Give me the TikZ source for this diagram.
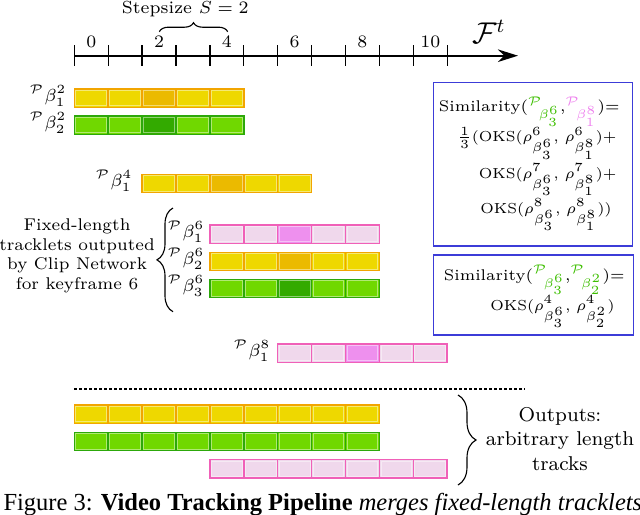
\documentclass[tikz,border=0pt]{standalone}
\usepackage{fontspec}
\newfontfamily\capfont{Liberation Serif}
\usetikzlibrary{decorations.pathreplacing,arrows.meta}
\definecolor{yelF}{HTML}{EED800}
\definecolor{yelD}{HTML}{EBBA00}
\definecolor{yelB}{HTML}{F2A500}
\definecolor{grnF}{HTML}{70D800}
\definecolor{grnD}{HTML}{33AA00}
\definecolor{grnB}{HTML}{2CA80A}
\definecolor{pnkF}{HTML}{F0D8EC}
\definecolor{pnkD}{HTML}{EE90EE}
\definecolor{pnkB}{HTML}{F060B8}
\definecolor{boxB}{HTML}{3C3CD8}
\definecolor{gtxt}{HTML}{3DBE00}
\definecolor{ptxt}{HTML}{EE82EE}
\newcommand{\trackbar}[6]{%
  \foreach \k in {1,...,#2}{%
    \pgfmathsetmacro{\cx}{74.3+(#1+\k-1)*33.9}%
    \pgfmathtruncatemacro{\idx}{#1+\k-1}%
    \ifnum\idx=#6\relax\def\cf{#4D}\else\def\cf{#4F}\fi
    \filldraw[fill=\cf, draw=#4B, line width=0.6pt] (\cx,#3) rectangle ++(33.9,18.3);
    \draw[white, opacity=0.45, line width=0.35pt] (\cx+1.6,#3+1.6) rectangle ++(30.7,15.1);
  }%
  \coordinate (#5) at (74.3+#1*33.9,#3+9.15);
}
\newcommand{\Pb}[2]{{}^{\mathcal{P}}\mkern-4mu{}_{\beta^{#1}_{#2}}}
\begin{document}
\begin{tikzpicture}[x=0.4pt,y=-0.4pt,
  lbl/.style={font=\fontsize{7}{8}\selectfont, inner sep=0pt},
  ticklbl/.style={font=\fontsize{7}{8}\selectfont, inner sep=0pt, anchor=base},
  boxtxt/.style={font=\fontsize{6.2}{8}\selectfont, inner sep=0pt, anchor=base east},
  boxsm/.style={font=\fontsize{5.8}{7}\selectfont, inner sep=0pt, anchor=base east},
  simbox/.style={draw=boxB, line width=0.6pt},
  bracestyle/.style={decorate, line width=0.45pt}]
\useasboundingbox (0,0) rectangle (640,514);
% axis
\coordinate (ax0) at (74.3,55.7);
\coordinate (ax1) at (518,55.7);
\draw[line width=0.9pt, -{Stealth[length=8pt,width=5pt,inset=2.5pt]}] (ax0) -- (ax1);
\foreach \k in {0,...,11}{
  \draw[line width=0.5pt] (74.3+\k*33.9,45) -- (74.3+\k*33.9,65.7);
}
\foreach \k in {0,2,4,6,8,10}{
  \node[ticklbl] (t\k) at (74.3+\k*33.9+16.95,47.7) {\k};
}
\node[lbl, anchor=base west, font=\fontsize{12}{14}\selectfont] (Ft) at (471.7,43.3) {$\mathcal{F}^{t}$};
\node[lbl, anchor=base] (step) at (185.3,13.5) {Stepsize $S=2$};
\coordinate (sb0) at (159.3,31.7);
\coordinate (sb1) at (227.7,31.7);
\draw[bracestyle, decoration={brace, amplitude=3.6pt}] (sb0) -- (sb1);
% tracklets
\trackbar{0}{5}{89}{yel}{b21}{2}
\trackbar{0}{5}{116}{grn}{b22}{2}
\trackbar{2}{5}{174.3}{yel}{b41}{4}
\trackbar{4}{5}{225}{pnk}{b61}{6}
\trackbar{4}{5}{252.3}{yel}{b62}{6}
\trackbar{4}{5}{279.3}{grn}{b63}{6}
\trackbar{6}{5}{344}{pnk}{b81}{8}
\node[lbl, anchor=base east] (l21) at (67,101) {${}^{\mathcal{P}}\beta^{2}_{1}$};
\node[lbl, anchor=base east] (l22) at (67,128) {${}^{\mathcal{P}}\beta^{2}_{2}$};
\node[lbl, anchor=base east] (l41) at (133,186.3) {${}^{\mathcal{P}}\beta^{4}_{1}$};
\node[lbl, anchor=base east] (l61) at (205,237) {${}^{\mathcal{P}}\beta^{6}_{1}$};
\node[lbl, anchor=base east] (l62) at (205,264.3) {${}^{\mathcal{P}}\beta^{6}_{2}$};
\node[lbl, anchor=base east] (l63) at (205,291.3) {${}^{\mathcal{P}}\beta^{6}_{3}$};
\node[lbl, anchor=base east] (l81) at (271,356) {${}^{\mathcal{P}}\beta^{8}_{1}$};
% left brace
\node[lbl, align=center, anchor=north, font=\fontsize{6.8}{7.8}\selectfont] (fixed) at (77,218.6) {Fixed-length\\tracklets outputed\\by Clip Network\\for keyframe 6};
\coordinate (lb0) at (173,311.7);
\coordinate (lb1) at (173,208);
\draw[bracestyle, decoration={brace, amplitude=6.4pt}] (lb0) -- (lb1);
% similarity boxes
\draw[simbox] (433.3,82.7) rectangle (632.3,246);
\node[boxtxt] (s1a) at (620,111.7) {Similarity(\textcolor{gtxt}{$\Pb{6}{3}$},\textcolor{ptxt}{$\Pb{8}{1}$})=};
\node[boxsm] (s1b) at (617,141.7) {$\frac{1}{3}$(OKS($\rho^{6}_{\beta^{6}_{3}}$, $\rho^{6}_{\beta^{8}_{1}}$)+};
\node[boxsm] (s1c) at (617,178) {OKS($\rho^{7}_{\beta^{6}_{3}}$, $\rho^{7}_{\beta^{8}_{1}}$)+};
\node[boxsm] (s1d) at (612,213) {OKS($\rho^{8}_{\beta^{6}_{3}}$, $\rho^{8}_{\beta^{8}_{1}}$))};
\draw[simbox] (433.3,255) rectangle (633.3,335);
\node[boxtxt] (s2a) at (625,280) {Similarity(\textcolor{gtxt}{$\Pb{6}{3}$},\textcolor{gtxt}{$\Pb{2}{2}$})=};
\node[boxsm] (s2b) at (615,310) {OKS($\rho^{4}_{\beta^{6}_{3}}$, $\rho^{4}_{\beta^{2}_{2}}$)};
% separator
\coordinate (d0) at (74.3,389);
\coordinate (d1) at (525,389);
\draw[line width=0.8pt, dash pattern=on 1.2pt off 0.8pt] (d0) -- (d1);
% outputs
\trackbar{0}{9}{405}{yel}{o1}{-1}
\trackbar{0}{9}{432.3}{grn}{o2}{-1}
\trackbar{4}{7}{459.6}{pnk}{o3}{-1}
\coordinate (ob0) at (458,395);
\coordinate (ob1) at (458,485);
\draw[bracestyle, decoration={brace, amplitude=7.2pt}] (ob0) -- (ob1);
\node[lbl, align=center, anchor=north, font=\fontsize{8}{9.9}\selectfont] (outs) at (560,406.5) {Outputs:\\arbitrary length\\tracks};
% caption
\node[inner sep=0pt, anchor=base west, font=\capfont\fontsize{9.8}{12}\selectfont] (cap) at (3,510) {Figure 3: \textbf{Video Tracking Pipeline} \textit{merges fixed-length tracklets}};
\end{tikzpicture}
\end{document}
